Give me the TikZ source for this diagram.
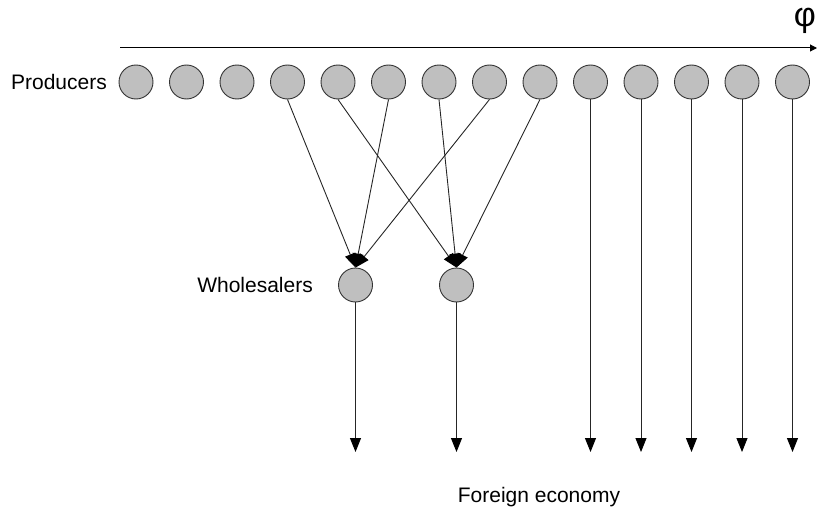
\documentclass[tikz,border=0pt]{standalone}
\usepackage{fontspec}
\setmainfont{Liberation Sans}
\usetikzlibrary{arrows.meta}
\begin{document}
\begin{tikzpicture}[x=1pt,y=-1pt,
  agent/.style={circle,draw=black!80,fill=black!25,line width=0.9pt,minimum size=34pt,inner sep=0pt},
  lbl/.style={font=\fontsize{21}{25}\selectfont,inner sep=0pt},
  flow/.style={draw=black!85,line width=0.9pt,-{Triangle[width=11pt,length=14pt,color=black]}}]
\useasboundingbox (0,0) rectangle (817,519);
% axis
\coordinate (ax0) at (120,48);
\coordinate (ax1) at (817,48);
\draw[line width=1pt,-{Triangle[width=7pt,length=7pt]}] (ax0) -- (ax1);
\node[lbl,font=\fontsize{34}{38}\selectfont] (phi) at (805,21) {φ};
% producers
\foreach \i in {1,...,14}{
  \node[agent] (p\i) at ({136+50.5*(\i-1)},82) {};
}
\node[lbl,anchor=east] (prod) at (107,82) {Producers};
% wholesalers
\node[agent] (w1) at (355.5,285) {};
\node[agent] (w2) at (456.5,285) {};
\node[lbl,anchor=east] (whole) at (313,285) {Wholesalers};
% flows to wholesalers
\draw[flow] (p4.south) -- (w1.north);
\draw[flow] (p6.south) -- (w1.north);
\draw[flow] (p8.south) -- (w1.north);
\draw[flow] (p5.south) -- (w2.north);
\draw[flow] (p7.south) -- (w2.north);
\draw[flow] (p9.south) -- (w2.north);
% down flows
\coordinate (ew1) at (355.5,452);
\coordinate (ew2) at (456.5,452);
\draw[flow] (w1.south) -- (ew1);
\draw[flow] (w2.south) -- (ew2);
\foreach \i in {10,...,14}{
  \coordinate (e\i) at ({136+50.5*(\i-1)},452);
  \draw[flow] (p\i.south) -- (e\i);
}
\node[lbl] (foreign) at (539,497) {Foreign economy};
\end{tikzpicture}
\end{document}
